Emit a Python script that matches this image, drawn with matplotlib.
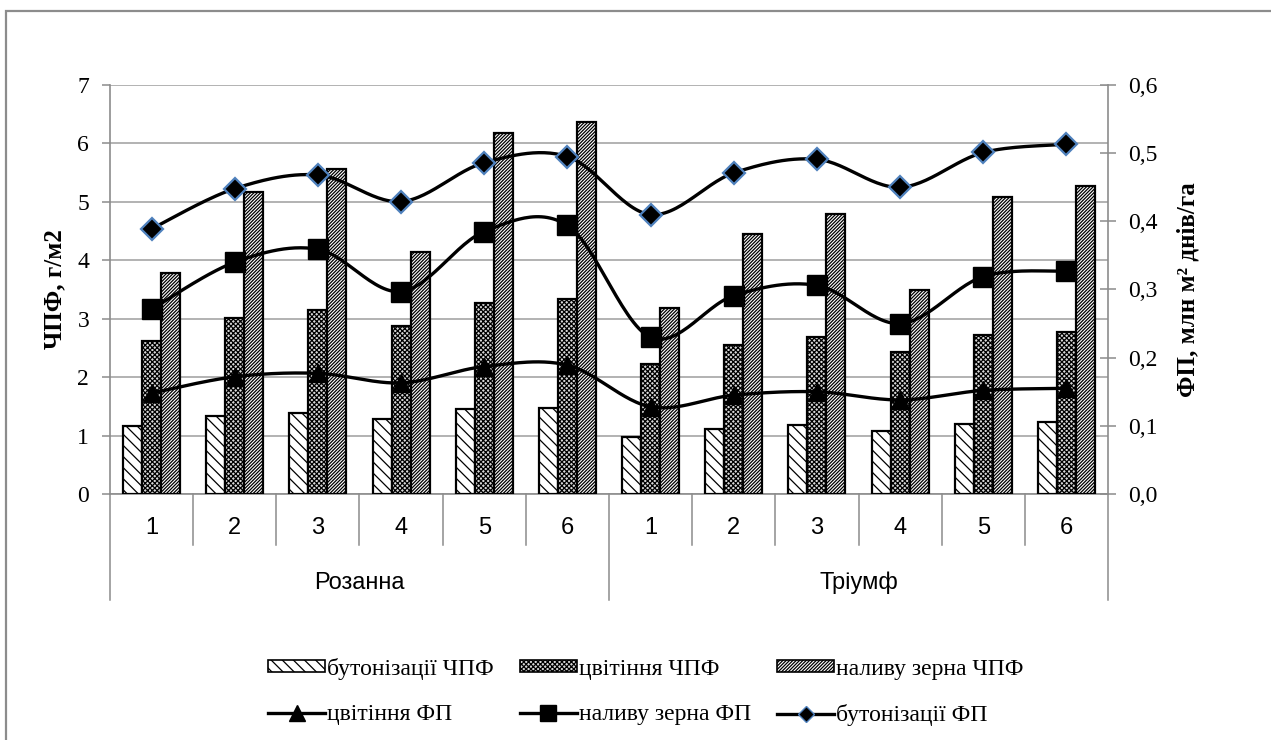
import numpy as np
import matplotlib
matplotlib.use("Agg")
import matplotlib.pyplot as plt
from matplotlib.patches import Patch, Rectangle
from matplotlib.lines import Line2D
from matplotlib.ticker import FuncFormatter, MultipleLocator

# ---------------- data ----------------
groups = ["Розанна", "Тріумф"]
cat_labels = ["1", "2", "3", "4", "5", "6", "1", "2", "3", "4", "5", "6"]

bud_chpf = [1.17, 1.34, 1.39, 1.28, 1.45, 1.47, 0.97, 1.12, 1.18, 1.08, 1.20, 1.23]
flower_chpf = [2.62, 3.01, 3.15, 2.88, 3.27, 3.34, 2.22, 2.55, 2.68, 2.43, 2.72, 2.78]
grain_chpf = [3.79, 5.17, 5.57, 4.15, 6.17, 6.37, 3.18, 4.45, 4.79, 3.50, 5.09, 5.27]

flower_fp = [0.148, 0.172, 0.177, 0.163, 0.187, 0.189, 0.128, 0.145, 0.150, 0.138, 0.152, 0.155]
grain_fp = [0.271, 0.340, 0.359, 0.297, 0.385, 0.394, 0.230, 0.291, 0.306, 0.250, 0.319, 0.327]
bud_fp = [0.389, 0.448, 0.468, 0.429, 0.486, 0.495, 0.410, 0.471, 0.491, 0.450, 0.501, 0.513]

bar_labels = ["бутонізації ЧПФ", "цвітіння ЧПФ", "наливу зерна ЧПФ"]
line_labels = ["цвітіння ФП", "наливу зерна ФП", "бутонізації ФП"]

left_label = "ЧПФ, г/м2"
right_label = "ФП, млн м² днів/га"

# ---------------- fonts ----------------
SERIF = ["Liberation Serif", "DejaVu Serif"]
NARROW = ["Liberation Sans Narrow", "Liberation Sans", "DejaVu Sans"]
plt.rcParams["hatch.linewidth"] = 0.9

HATCH_BUD = "\\\\\\"
HATCH_FLO = "xxxxxxx"
HATCH_GRA = "//////////"

W, H = 1271, 740
fig = plt.figure(figsize=(W / 100, H / 100), dpi=100)

# outer frame
fig.add_artist(Rectangle((6 / W, -0.1), 1.2, (740 - 11) / H + 0.1, transform=fig.transFigure,
                         fill=False, edgecolor="#8c8c8c", linewidth=1.6))

L, R, T, B = 110, 1108, 85, 494
ax = fig.add_axes([L / W, 1 - B / H, (R - L) / W, (B - T) / H])
ax2 = ax.twinx()

x = np.arange(len(cat_labels))
bw = 0.228
grey = "#8c8c8c"

ax.bar(x - bw, bud_chpf, bw, facecolor="white", edgecolor="black", linewidth=1.6,
       hatch=HATCH_BUD, zorder=3)
ax.bar(x, flower_chpf, bw, facecolor="#d9d9d9", edgecolor="black", linewidth=1.6,
       hatch=HATCH_FLO, zorder=3)
ax.bar(x + bw, grain_chpf, bw, facecolor="white", edgecolor="black", linewidth=1.6,
       hatch=HATCH_GRA, zorder=3)

ax.set_xlim(-0.5, len(x) - 0.5)
ax.set_ylim(0, 7)
ax.yaxis.set_major_locator(MultipleLocator(1))
ax.grid(axis="y", color="#a6a6a6", linewidth=1.2, zorder=0)
ax.set_axisbelow(True)
for s in ["top", "right"]:
    ax.spines[s].set_visible(False)
ax.spines["left"].set_color(grey)
ax.spines["bottom"].set_color(grey)
ax.spines["left"].set_linewidth(1.2)
ax.spines["bottom"].set_linewidth(1.2)
ax.tick_params(axis="y", direction="out", length=6, width=1.1, color=grey, pad=9,
               labelsize=17)
for t in ax.get_yticklabels():
    t.set_fontfamily(SERIF)
ax.set_xticks([])


# smooth lines (Bezier through data points, Excel-like)
def smooth(xs, ys, n=30):
    P = np.column_stack([xs, ys]).astype(float)
    m = len(P)
    out = [P[0]]
    for i in range(m - 1):
        p0 = P[i - 1] if i > 0 else P[i]
        p1, p2 = P[i], P[i + 1]
        p3 = P[i + 2] if i + 2 < m else P[i + 1]
        c1 = p1 + (p2 - p0) / 6.0
        c2 = p2 - (p3 - p1) / 6.0
        t = np.linspace(0, 1, n)[1:, None]
        seg = ((1 - t) ** 3) * p1 + 3 * ((1 - t) ** 2) * t * c1 + 3 * (1 - t) * t ** 2 * c2 + t ** 3 * p2
        out.extend(seg)
    out = np.array(out)
    return out[:, 0], out[:, 1]


for ys in [flower_fp, grain_fp, bud_fp]:
    sx, sy = smooth(x, ys)
    ax2.plot(sx, sy, color="black", linewidth=2.4, zorder=4, solid_capstyle="round")
ax2.plot(x, flower_fp, linestyle="none", marker="^", markersize=13, color="black", zorder=5)
ax2.plot(x, grain_fp, linestyle="none", marker="s", markersize=15, color="black", zorder=5)
ax2.plot(x, bud_fp, linestyle="none", marker="D", markersize=11, markerfacecolor="black",
         markeredgecolor="#4f81bd", markeredgewidth=1.6, zorder=5)

ax2.set_ylim(0, 0.6)
ax2.yaxis.set_major_locator(MultipleLocator(0.1))
ax2.yaxis.set_major_formatter(FuncFormatter(lambda v, p: f"{v:.1f}".replace(".", ",")))
for s in ["top", "left", "bottom"]:
    ax2.spines[s].set_visible(False)
ax2.spines["right"].set_color(grey)
ax2.spines["right"].set_linewidth(1.2)
ax2.tick_params(axis="y", direction="inout", length=11, width=1.1, color=grey, pad=9,
                labelsize=17)
for t in ax2.get_yticklabels():
    t.set_fontfamily(SERIF)

# axis titles
ax.set_ylabel(left_label, fontfamily=SERIF, fontweight="bold", fontsize=18)
ax.yaxis.label.set(ha="center", va="center")
ax.yaxis.set_label_coords((55 - L) / (R - L), 0.5)
ax2.set_ylabel(right_label, fontfamily=SERIF, fontweight="bold", fontsize=18, rotation=90)
ax2.yaxis.label.set(ha="center", va="center")
ax2.yaxis.set_label_coords((1188 - L) / (R - L), 0.5)

# multi-level category axis
trans = ax.get_xaxis_transform()
ph = B - T
y_num = -(528 - B) / ph
y_sep = -(545 - B) / ph
y_full = -(600 - B) / ph
y_grp = -(583 - B) / ph
for i, lab in enumerate(cat_labels):
    ax.text(i, y_num, lab, transform=trans, ha="center", va="center",
            fontsize=17, fontfamily=NARROW)
n = len(cat_labels)
half = n // 2
for k in range(n + 1):
    xb = k - 0.5
    yb = y_full if k in (0, half, n) else y_sep
    ax.add_line(Line2D([xb, xb], [0, yb], transform=trans, color=grey, linewidth=1.1,
                       clip_on=False))
for g, name in enumerate(groups):
    ax.text(g * half + (half - 1) / 2, y_grp, name, transform=trans, ha="center", va="center",
            fontsize=17, fontfamily=NARROW)

# legend
h_bud = Patch(facecolor="white", edgecolor="black", hatch=HATCH_BUD, linewidth=1.2)
h_flo = Patch(facecolor="#d9d9d9", edgecolor="black", hatch=HATCH_FLO, linewidth=1.2)
h_gra = Patch(facecolor="white", edgecolor="black", hatch=HATCH_GRA, linewidth=1.2)
l_flo = Line2D([], [], color="black", linewidth=2.4, marker="^", markersize=11)
l_gra = Line2D([], [], color="black", linewidth=2.4, marker="s", markersize=12)
l_bud = Line2D([], [], color="black", linewidth=2.4, marker="D", markersize=8,
               markerfacecolor="black", markeredgecolor="#4f81bd", markeredgewidth=1.0)
handles = [h_bud, l_flo, h_flo, l_gra, h_gra, l_bud]
labels = [bar_labels[0], line_labels[0], bar_labels[1], line_labels[1], bar_labels[2], line_labels[2]]
fig.legend(handles, labels, loc="center", bbox_to_anchor=(646 / W, 1 - 692 / H), ncol=3,
           frameon=False, prop={"family": SERIF, "size": 17}, handlelength=2.4,
           handleheight=0.4, handletextpad=0.1, columnspacing=1.1, labelspacing=1.05)

fig.savefig("out.png", dpi=100)
